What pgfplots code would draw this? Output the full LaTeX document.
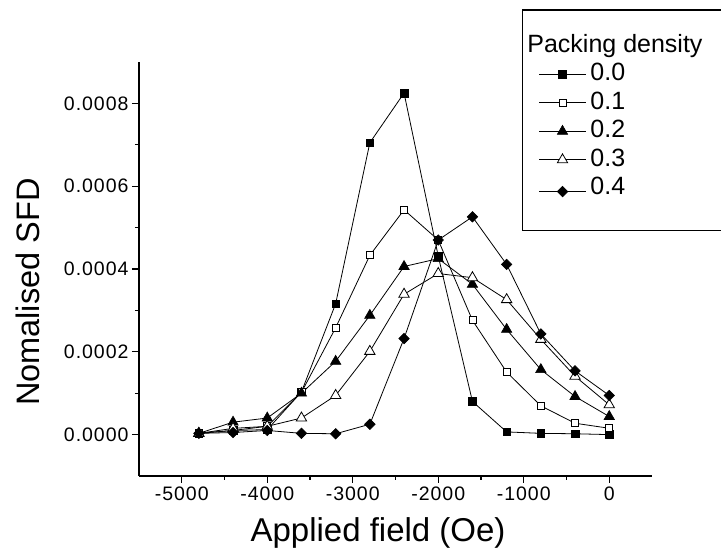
\documentclass[border=0pt]{standalone}
\usepackage{fontspec}
\setmainfont{Liberation Sans}
\newfontfamily\tickfont{Liberation Sans}[LetterSpace=5]
\usepackage{pgfplots}
\pgfplotsset{compat=1.18}
\begin{document}
\begin{tikzpicture}[x=1pt,y=1pt]
\useasboundingbox (0,0) rectangle (721,559);
\clip (0,0) rectangle (721,559);
\begin{axis}[
  at={(139pt,83pt)}, anchor=south west,
  scale only axis, width=513pt, height=414pt,
  xmin=-5500, xmax=500, ymin=-0.0001, ymax=0.0009,
  axis lines*=left,
  axis line style={line width=1.4pt},
  tick align=outside,
  major tick length=7pt, minor tick length=4pt,
  every tick/.style={black, line width=1.2pt},
  xtick={-5000,-4000,...,0}, minor x tick num=1,
  ytick={0,0.0002,0.0004,0.0006,0.0008}, minor y tick num=1,
  scaled y ticks=false,
  /pgf/number format/assume math mode=true,
  /pgf/number format/1000 sep={},
  yticklabel style={/pgf/number format/.cd, fixed, fixed zerofill, precision=4},
  ticklabel style={font=\tickfont\fontsize{19.5}{22}\selectfont},
  xlabel={Applied field (Oe)},
  ylabel={Nomalised SFD},
  every axis x label/.style={font=\fontsize{33}{38}\selectfont, at={([yshift=-66pt]rel axis cs:0.466,0)}, anchor=base},
  every axis y label/.style={font=\fontsize{32.5}{38}\selectfont, at={([xshift=-99pt]rel axis cs:0,0.444)}, anchor=base, rotate=90},
  every axis plot/.append style={black, line width=0.8pt},
  legend cell align=left,
  legend style={at={(rel axis cs:0.7466,1.1268)}, anchor=north west,
    draw=black, line width=1.2pt, inner xsep=16pt, inner ysep=24pt,
    font=\fontsize{25}{28}\selectfont,
    nodes={inner ysep=0pt, inner xsep=4pt, text height=18pt, text depth=5.5pt},
    row sep=5pt},
  legend image code/.code={\draw[mark repeat=2,mark phase=2,line width=0.8pt] plot coordinates {(0pt,0pt) (23.5pt,0pt) (47pt,0pt)};},
]
\addlegendimage{empty legend}
\addlegendentry{\hspace*{-63pt}Packing density\hspace*{40pt}}
\addplot[mark=square*, mark size=3.8pt, mark options={fill=black, line width=0.6pt}] coordinates {
(-4800,0.000003) (-4400,0.00001) (-4000,0.000012) (-3600,0.000103) (-3200,0.000316) (-2800,0.000705) (-2400,0.000825) (-2000,0.000431) (-1600,0.00008) (-1200,0.0000065) (-800,0.000003) (-400,0.000002) (0,0.0)};
\addlegendentry{0.0}
\addplot[mark=square*, mark size=3.5pt, mark options={fill=white, line width=0.8pt}] coordinates {
(-4800,0.000003) (-4400,0.00001) (-4000,0.00002) (-3600,0.000102) (-3200,0.000258) (-2800,0.000433) (-2400,0.000543) (-2000,0.00047) (-1600,0.000276) (-1200,0.000151) (-800,0.0000695) (-400,0.0000274) (0,0.0000153)};
\addlegendentry{0.1}
\addplot[mark=triangle*, mark size=6pt, mark options={fill=black, line width=0.6pt}] coordinates {
(-4800,0.000003) (-4400,0.00003) (-4000,0.00004) (-3600,0.0001) (-3200,0.000177) (-2800,0.000288) (-2400,0.000406) (-2000,0.000425) (-1600,0.000363) (-1200,0.000254) (-800,0.000157) (-400,0.000092) (0,0.0000436)};
\addlegendentry{0.2}
\addplot[mark=triangle*, mark size=6pt, mark options={fill=white, line width=0.8pt}] coordinates {
(-4800,0.000003) (-4400,0.000015) (-4000,0.00002) (-3600,0.00004) (-3200,0.0000945) (-2800,0.000201) (-2400,0.000339) (-2000,0.000389) (-1600,0.000379) (-1200,0.000326) (-800,0.00023) (-400,0.000141) (0,0.000072)};
\addlegendentry{0.3}
\addplot[mark=square*, mark size=3.7pt, mark options={fill=black, rotate=45, line width=0.6pt}] coordinates {
(-4800,0.000003) (-4400,0.000005) (-4000,0.00001) (-3600,0.000003) (-3200,0.000002) (-2800,0.000025) (-2400,0.000232) (-2000,0.00047) (-1600,0.000526) (-1200,0.000411) (-800,0.000243) (-400,0.000154) (0,0.0000945)};
\addlegendentry[text depth=12pt]{0.4}
\end{axis}
\end{tikzpicture}
\end{document}
